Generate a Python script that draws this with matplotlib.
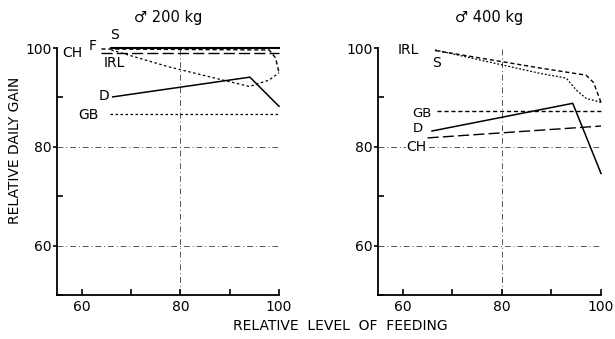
import matplotlib
matplotlib.use("Agg")
import matplotlib.pyplot as plt
from matplotlib.ticker import MultipleLocator

# ---- data: 200 kg panel ----
s200_x = [66, 100];            s200_y = [100, 100]
f200_x = [64, 98, 99.3, 100];  f200_y = [99.8, 99.6, 98, 95]
ch200_x = [64, 100];           ch200_y = [98.9, 98.9]
irl200_x = [66, 77.6, 94, 98, 100]; irl200_y = [99.6, 96.2, 92.2, 93.5, 95]
d200_x = [66.3, 94.1, 100];    d200_y = [90.1, 94.1, 88.2]
gb200_x = [65.7, 100];         gb200_y = [86.7, 86.7]

# ---- data: 400 kg panel ----
s400_x = [66.5, 88, 97, 98.5, 100];  s400_y = [99.5, 95.9, 94.5, 93, 89]
irl400_x = [66.5, 88, 93, 95, 97, 100]; irl400_y = [99.6, 94.8, 93.9, 91.5, 89.8, 89]
gb400_x = [67, 100];           gb400_y = [87.2, 87.2]
d400_x = [65.9, 94.3, 100];    d400_y = [83.2, 88.8, 74.6]
ch400_x = [65, 100];           ch400_y = [81.8, 84.2]

xticks = [60, 80, 100]
yticks = [60, 80, 100]

fig = plt.figure(figsize=(6.15, 3.39), dpi=100)
ax1 = fig.add_axes([57/615, 1-295/339, 222/615, 247/339])
ax2 = fig.add_axes([378/615, 1-295/339, 223/615, 247/339])

grid_kw = dict(color="#555555", lw=0.7, ls=(0, (6, 3, 1, 3)), zorder=0)
fs = 10

def style(ax, title):
    ax.set_xlim(55, 100)
    ax.set_ylim(50, 100)
    for sp in ["top", "right"]:
        ax.spines[sp].set_visible(False)
    ax.spines["left"].set_linewidth(1.3)
    ax.spines["bottom"].set_linewidth(1.3)
    ax.set_xticks(xticks)
    ax.set_yticks(yticks)
    ax.xaxis.set_minor_locator(MultipleLocator(10))
    ax.yaxis.set_minor_locator(MultipleLocator(10))
    ax.tick_params(axis="x", which="both", direction="in", length=4, width=1.2, labelsize=fs)
    ax.tick_params(axis="y", which="major", direction="out", length=3, width=1.2, labelsize=fs, pad=1)
    ax.tick_params(axis="y", which="minor", direction="in", length=4, width=1.2)
    for v in [60, 80]:
        ax.axhline(v, **grid_kw)
    for v in [80, 100]:
        ax.axvline(v, **grid_kw)
    ax.set_title(title, fontsize=fs + 0.5, pad=19)

style(ax1, "\u2642 200 kg")
style(ax2, "\u2642 400 kg")

lk = dict(color="black", clip_on=False)
ax1.plot(s200_x, s200_y, lw=1.5, ls="-", **lk)
ax1.plot(f200_x, f200_y, lw=1.0, ls=(0, (3, 2)), **lk)
ax1.plot(ch200_x, ch200_y, lw=1.0, ls=(0, (8, 3)), **lk)
ax1.plot(irl200_x, irl200_y, lw=0.9, ls=(0, (2, 2)), **lk)
ax1.plot(d200_x, d200_y, lw=1.1, ls="-", **lk)
ax1.plot(gb200_x, gb200_y, lw=0.9, ls=(0, (2, 2)), **lk)

ax2.plot(s400_x, s400_y, lw=1.0, ls=(0, (3, 2)), **lk)
ax2.plot(irl400_x, irl400_y, lw=0.9, ls=(0, (1.5, 1.5)), **lk)
ax2.plot(gb400_x, gb400_y, lw=1.0, ls=(0, (3, 2)), **lk)
ax2.plot(d400_x, d400_y, lw=1.1, ls="-", **lk)
ax2.plot(ch400_x, ch400_y, lw=1.0, ls=(0, (8, 3)), **lk)

tk = dict(fontsize=fs, ha="center", va="center")
ax1.text(66.7, 102.6, "S", **tk)
ax1.text(62.2, 100.4, "F", **tk)
ax1.text(58.2, 99.0, "CH", **tk)
ax1.text(66.7, 97.0, "IRL", **tk)
ax1.text(64.5, 90.3, "D", **tk)
ax1.text(61.4, 86.5, "GB", **tk)

ax2.text(61.2, 99.6, "IRL", **tk)
ax2.text(66.9, 97.0, "S", **tk)
ax2.text(63.9, 86.7, "GB", fontsize=9.5, ha="center", va="center")
ax2.text(63.0, 83.8, "D", fontsize=9.5, ha="center", va="center")
ax2.text(62.8, 80.0, "CH", bbox=dict(fc="white", ec="none", pad=0.5), **tk)

fig.text(15/615, 1-150/339, "RELATIVE DAILY GAIN", rotation=90, fontsize=fs,
         ha="center", va="center")
fig.text(340/615, 1-326/339, "RELATIVE  LEVEL  OF  FEEDING", fontsize=fs,
         ha="center", va="center")

fig.savefig("out.png", dpi=100)
